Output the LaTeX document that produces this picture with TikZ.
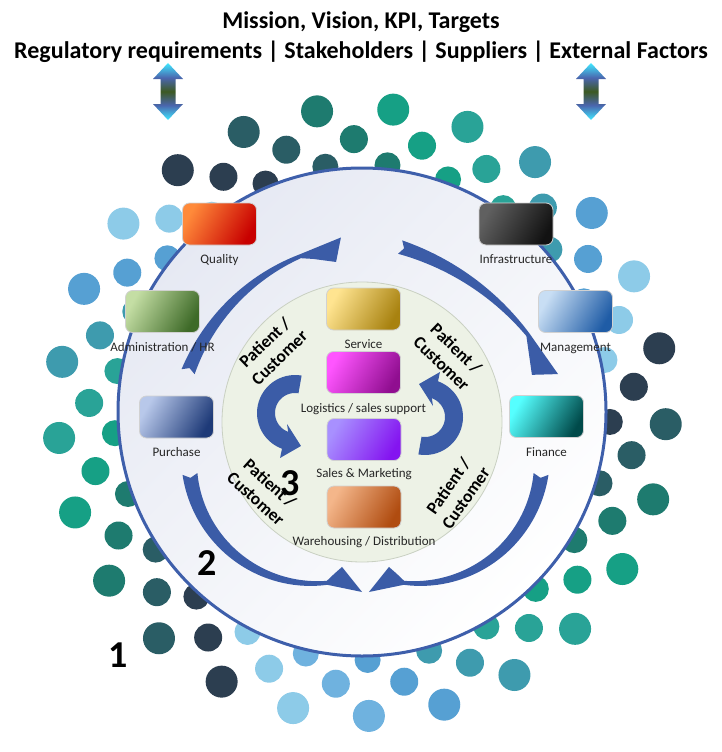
\documentclass[tikz,border=0pt]{standalone}
\usepackage{fontspec}
\setmainfont{Carlito}
\usetikzlibrary{positioning}

\definecolor{dotnavy}{HTML}{2C3E50}
\definecolor{dotdteal}{HTML}{2A5D65}
\definecolor{dotteal}{HTML}{1E7B6F}
\definecolor{dotgreen}{HTML}{16A085}
\definecolor{dottgreen}{HTML}{29A397}
\definecolor{dottblue}{HTML}{3E9BAE}
\definecolor{dotblue}{HTML}{56A0D3}
\definecolor{dotmblue}{HTML}{6FB2DF}
\definecolor{dotlblue}{HTML}{8DCBE8}
\definecolor{ringblue}{HTML}{3E5FAB}
\definecolor{arrowblue}{HTML}{3B5CA7}
\definecolor{ringfill}{HTML}{E6E9F3}
\definecolor{corefill}{HTML}{EDF2E6}
\definecolor{coreline}{HTML}{C9D0C2}
\definecolor{tipcyan}{HTML}{3FE8FF}
\definecolor{headblue}{HTML}{4A66AE}
\definecolor{shaftolive}{HTML}{3C5A22}

\definecolor{qualitytop}{HTML}{FF8A3A}   \definecolor{qualitybot}{HTML}{C80000}
\definecolor{admintop}{HTML}{C4DEA4}     \definecolor{adminbot}{HTML}{3E6A28}
\definecolor{purchasetop}{HTML}{B8C8EA}  \definecolor{purchasebot}{HTML}{1E3A78}
\definecolor{servicetop}{HTML}{FFE490}   \definecolor{servicebot}{HTML}{A88210}
\definecolor{logisticstop}{HTML}{FF55FF} \definecolor{logisticsbot}{HTML}{900E90}
\definecolor{salestop}{HTML}{A890FF}     \definecolor{salesbot}{HTML}{8414F0}
\definecolor{waretop}{HTML}{F4B68A}      \definecolor{warebot}{HTML}{B04C10}
\definecolor{infratop}{HTML}{606060}     \definecolor{infrabot}{HTML}{121212}
\definecolor{mgmttop}{HTML}{C8DEF4}      \definecolor{mgmtbot}{HTML}{1F5CA6}
\definecolor{financetop}{HTML}{55FFFF}   \definecolor{financebot}{HTML}{004A4A}

\pgfdeclareverticalshading{updown}{100bp}{color(0bp)=(tipcyan); color(25bp)=(tipcyan);
  color(38bp)=(headblue); color(50bp)=(shaftolive); color(62bp)=(headblue);
  color(75bp)=(tipcyan); color(100bp)=(tipcyan)}

\tikzset{
  dept/.style 2 args={rounded corners=7pt, minimum width=74pt, minimum height=42pt,
    draw=black!18, line width=0.8pt, top color=#1, bottom color=#2, shading angle=60},
  deptname/.style={font=\fontsize{13}{15}\selectfont, text=black!85, inner sep=1pt,
    text height=9pt, text depth=3pt},
  patient/.style={font=\bfseries\fontsize{17.5}{21}\selectfont, align=center, inner sep=0pt},
  ringno/.style={font=\bfseries\fontsize{38}{38}\selectfont, inner sep=0pt},
  headline/.style={font=\bfseries\fontsize{24}{28}\selectfont, inner sep=0pt},
  bluearrow/.style={fill=arrowblue}
}

\begin{document}
\begin{tikzpicture}[x=1pt, y=-1pt]
\useasboundingbox (0,0) rectangle (722,752);

% headline
\node[headline] (mission) at (361,22) {Mission, Vision, KPI, Targets};
\node[headline] (factors) at (361,52) {Regulatory requirements | Stakeholders | Suppliers | External Factors};

% up/down arrows under the headline
\foreach \x in {168,591}
  \shade[shading=updown] (\x,63) -- (\x+15,79) -- (\x+7.5,79) -- (\x+7.5,104) -- (\x+15,104)
    -- (\x,120) -- (\x-15,104) -- (\x-7.5,104) -- (\x-7.5,79) -- (\x-15,79) -- cycle;

% ring 1: dots
\begin{scope}[shift={(362,412)}]
  \foreach \c [count=\k from 0] in {dotlblue,dotnavy,dotdteal,dotteal,dotgreen,dottgreen,dottblue,dotblue,
      dotlblue,dotnavy,dotdteal,dotteal,dotgreen,dottgreen,dottblue,dotblue,dotmblue,
      dotlblue,dotnavy,dotdteal,dotteal,dotgreen,dottgreen,dottblue,dotblue} {
    \fill[\c] ({-127.3+14.4*\k}:248) circle[radius=13pt];
    \fill[\c] ({-134.9+14.4*\k}:273) circle[radius=14pt];
    \fill[\c] ({-141.7+14.4*\k}:304) circle[radius=16pt];
  }
\end{scope}

% ring 2 and ring 3
\node[circle, minimum size=488pt, draw=ringblue, line width=3pt,
  top color=ringfill, bottom color=white, shading angle=45] (ring) at (362,412) {};
\node[circle, minimum size=280pt, draw=coreline, line width=0.8pt, fill=corefill] (core) at (362,422) {};

% ring 2 arrows
\begin{scope}[shift={(379,445)}]
  \fill[bluearrow] plot[domain=201:247.3, samples=30, smooth] (\x:{204.5+(14-10*(\x-201)/46.3)/2})
    -- (259.6:211) -- (256.8:188) -- (250.5:197.4)
    -- plot[domain=247.3:201, samples=30, smooth] (\x:{204.5-(14-10*(\x-201)/46.3)/2})
    -- (202.1:204.5) -- cycle;
\end{scope}
\begin{scope}[shift={(322,498)}]
  \fill[bluearrow] plot[domain=-72.7:-38.4, samples=30, smooth] (\x:{262.8+(14-10*(\x+72.7)/34.3)/2})
    -- (-27.7:266.6) -- (-30.4:243.4)
    -- plot[domain=-38.4:-72.7, samples=30, smooth] (\x:{262.8-(14-10*(\x+72.7)/34.3)/2})
    -- (-71.8:262.8) -- cycle;
\end{scope}
\foreach \flip in {1,-1} {
  \begin{scope}[shift={({365.5-365.5*\flip},0)}, xscale=\flip]
    \begin{scope}[shift={(314,458.5)}]
      \fill[bluearrow] plot[domain=172.9:84, samples=30, smooth] (\x:{125+(15-11*(172.9-\x)/88.9)/2})
        -- (70.2:141.9) -- (75.5:112) -- (80:117)
        -- plot[domain=84:172.9, samples=30, smooth] (\x:{125-(15-11*(172.9-\x)/88.9)/2})
        -- (171.1:125) -- cycle;
    \end{scope}
  \end{scope}
}

% ring 3 arrows
\foreach \turn in {0,180} {
  \begin{scope}[rotate around={\turn:(360,415)}]
    \begin{scope}[shift={(425,417)}]
      \fill[bluearrow] plot[domain=100:-70, samples=30, smooth] (\x:38)
        -- (-71.6:47.4) -- (-100.3:33.5) -- (-54:13.6)
        -- plot[domain=-70:100, samples=30, smooth] (\x:20) -- cycle;
    \end{scope}
  \end{scope}
}

% departments
\node[dept={qualitytop}{qualitybot}] (quality) at (219.5,224) {};
\node[dept={admintop}{adminbot}] (admin) at (162.5,311.5) {};
\node[dept={purchasetop}{purchasebot}] (purchase) at (176.5,417) {};
\node[dept={infratop}{infrabot}] (infra) at (516,224) {};
\node[dept={mgmttop}{mgmtbot}] (mgmt) at (575.5,311.5) {};
\node[dept={financetop}{financebot}] (finance) at (546.5,416.5) {};
\node[dept={servicetop}{servicebot}] (service) at (363.5,309) {};
\node[dept={logisticstop}{logisticsbot}] (logistics) at (363.5,372.5) {};
\node[dept={salestop}{salesbot}] (sales) at (364,439.5) {};
\node[dept={waretop}{warebot}] (ware) at (364,507) {};

\node[deptname, below=8pt of quality] (qualityname) {Quality};
\node[deptname, below=8pt of admin] (adminname) {Administration / HR};
\node[deptname, below=8pt of purchase] (purchasename) {Purchase};
\node[deptname, below=8pt of infra] (infraname) {Infrastructure};
\node[deptname, below=8pt of mgmt] (mgmtname) {Management};
\node[deptname, below=8pt of finance] (financename) {Finance};
\node[deptname, below=8pt of service] (servicename) {Service};
\node[deptname, below=8pt of logistics] (logisticsname) {Logistics / sales support};
\node[deptname, below=6pt of sales] (salesname) {Sales \& Marketing};
\node[deptname, below=7pt of ware] (warename) {Warehousing / Distribution};

% patient / customer
\node[patient, rotate=44] (pc1) at (272,350) {Patient /\\Customer};
\node[patient, rotate=-44] (pc2) at (449,356) {Patient /\\Customer};
\node[patient, rotate=-42] (pc3) at (263,491) {Patient /\\Customer};
\node[patient, rotate=55] (pc4) at (457,492) {Patient /\\Customer};

% ring numbers
\node[ringno] (one) at (118,655) {1};
\node[ringno] (two) at (207,563) {2};
\node[ringno] (three) at (290,483) {3};
\end{tikzpicture}
\end{document}
